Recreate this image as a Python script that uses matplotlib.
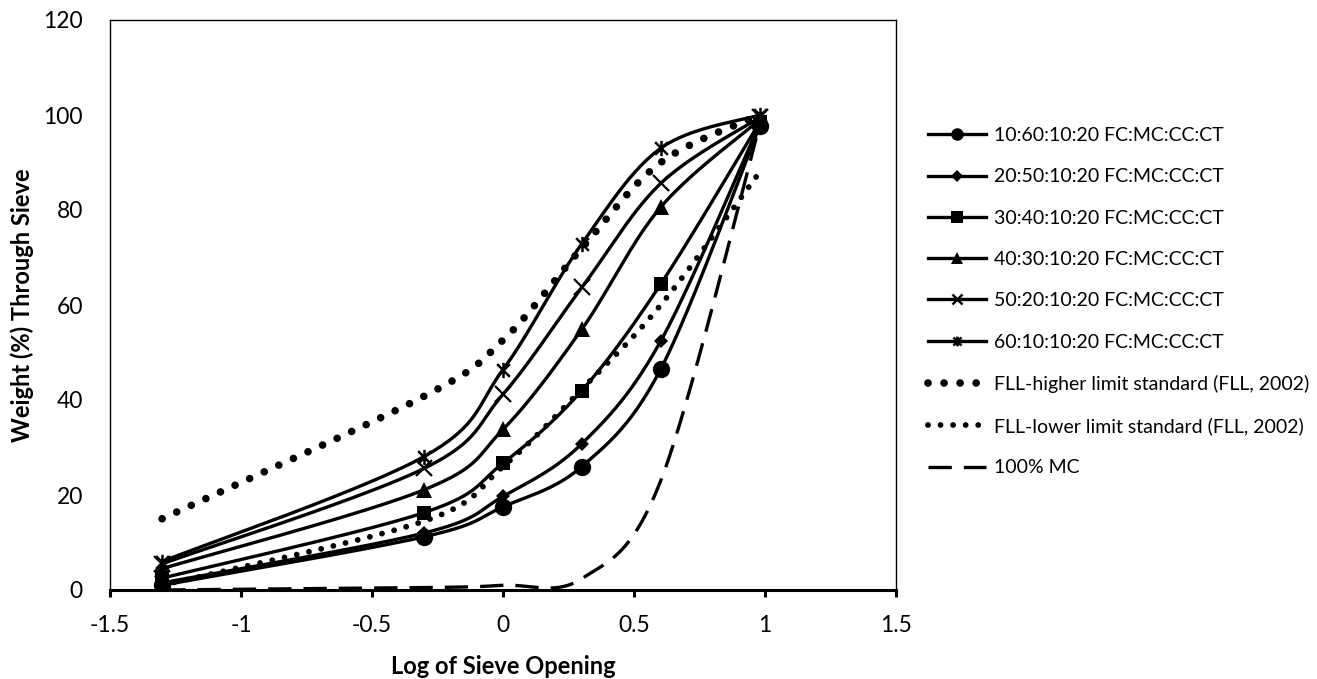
import numpy as np
import matplotlib
matplotlib.use("Agg")
import matplotlib.pyplot as plt
from matplotlib.lines import Line2D
from matplotlib.path import Path

plt.rcParams['font.family'] = ['Lato', 'DejaVu Sans']

# ---------------- data ----------------
log_sieve = [-1.301, -0.301, 0.0, 0.301, 0.602, 0.98]

series_names = [
    "10:60:10:20 FC:MC:CC:CT",
    "20:50:10:20 FC:MC:CC:CT",
    "30:40:10:20 FC:MC:CC:CT",
    "40:30:10:20 FC:MC:CC:CT",
    "50:20:10:20 FC:MC:CC:CT",
    "60:10:10:20 FC:MC:CC:CT",
]
s_10_60 = [1.0, 11.2, 17.5, 26.0, 46.5, 97.7]
s_20_50 = [1.5, 12.0, 19.7, 30.8, 52.4, 98.2]
s_30_40 = [2.5, 16.3, 26.7, 42.0, 64.4, 98.5]
s_40_30 = [4.5, 21.1, 33.8, 54.9, 80.6, 99.0]
s_50_20 = [5.5, 25.6, 41.2, 63.7, 85.6, 99.5]
s_60_10 = [6.0, 28.1, 46.4, 72.9, 93.0, 100.0]

fll_high_name = "FLL-higher limit standard (FLL, 2002)"
fll_high = [15.0, 40.8, 52.6, 72.0, 90.0, 100.0]
fll_low_name = "FLL-lower limit standard (FLL, 2002)"
fll_low = [1.0, 14.5, 26.0, 42.3, 60.0, 88.0]
mc_name = "100% MC"
mc_100 = [0.0, 0.5, 1.0, 2.4, 23.0, 98.0]

x_ticks = [-1.5, -1, -0.5, 0, 0.5, 1, 1.5]
x_ticklabels = ["-1.5", "-1", "-0.5", "0", "0.5", "1", "1.5"]
y_ticks = [0, 20, 40, 60, 80, 100, 120]


def smooth(xs, ys, n=60):
    """Excel-like smoothed line (Catmull-Rom Bezier through the points)."""
    P = np.column_stack([xs, ys]).astype(float)
    ext = np.vstack([P[0], P, P[-1]])
    out = []
    t = np.linspace(0, 1, n)[:, None]
    for i in range(len(P) - 1):
        p0, p1, p2, p3 = ext[i], ext[i + 1], ext[i + 2], ext[i + 3]
        c1 = p1 + (p2 - p0) / 6.0
        c2 = p2 - (p3 - p1) / 6.0
        seg = (1 - t) ** 3 * p1 + 3 * (1 - t) ** 2 * t * c1 + 3 * (1 - t) * t ** 2 * c2 + t ** 3 * p2
        out.append(seg if i == 0 else seg[1:])
    out = np.vstack(out)
    return out[:, 0], out[:, 1]


star_path = Path(
    [(-0.5, -0.5), (0.5, 0.5), (-0.5, 0.5), (0.5, -0.5), (0, -0.6), (0, 0.6)],
    [Path.MOVETO, Path.LINETO, Path.MOVETO, Path.LINETO, Path.MOVETO, Path.LINETO],
)

W, H = 1317, 679
fig = plt.figure(figsize=(W / 100, H / 100), dpi=100)
ax = fig.add_axes([110 / W, 1 - 590 / H, (896 - 110) / W, (590 - 20) / H])

LW = 2.4
styles = [
    dict(marker='o', ms=12.5, mew=0),
    dict(marker='D', ms=7.5, mew=0),
    dict(marker='s', ms=10.5, mew=0),
    dict(marker='^', ms=11, mew=0),
    dict(marker='x', ms=12, mew=1.6),
    dict(marker=star_path, ms=11, mew=1.8),
]
leg_styles = [
    dict(marker='o', ms=9, mew=0),
    dict(marker='D', ms=6, mew=0),
    dict(marker='s', ms=8, mew=0),
    dict(marker='^', ms=8, mew=0),
    dict(marker='x', ms=7, mew=1.8),
    dict(marker=star_path, ms=7, mew=1.8),
]
all_series = [s_10_60, s_20_50, s_30_40, s_40_30, s_50_20, s_60_10]

handles = []
for ys, st, lst, name in zip(all_series, styles, leg_styles, series_names):
    sx, sy = smooth(log_sieve, ys)
    ax.plot(sx, sy, color='black', lw=LW, solid_capstyle='round', zorder=3)
    ax.plot(log_sieve, ys, linestyle='none', color='black', zorder=4, **st)
    handles.append(Line2D([], [], color='black', lw=LW, **lst, label=name))

sx, sy = smooth(log_sieve, fll_high)
hh, = ax.plot(sx, sy, color='black', lw=5.5, linestyle=(0, (0.001, 2.1)),
              dash_capstyle='round', zorder=3, label=fll_high_name)
sx, sy = smooth(log_sieve, fll_low)
hl, = ax.plot(sx, sy, color='black', lw=4.2, linestyle=(0, (0.001, 2.15)),
              dash_capstyle='round', zorder=3, label=fll_low_name)
sx, sy = smooth(log_sieve, mc_100)
hm, = ax.plot(sx, sy, color='black', lw=LW, linestyle=(0, (7.0, 3.6)),
              dash_capstyle='butt', zorder=3, label=mc_name)
handles += [hh, hl, hm]

ax.set_xlim(-1.5, 1.5)
ax.set_ylim(0, 120)
ax.set_xticks(x_ticks)
ax.set_xticklabels(x_ticklabels)
ax.set_yticks(y_ticks)
ax.tick_params(axis='x', direction='out', length=4.8, width=2.2, pad=13, labelsize=16.5)
ax.tick_params(axis='y', length=0, pad=19.5, labelsize=16.5)
for side in ['left', 'top', 'right']:
    ax.spines[side].set_linewidth(1.0)
ax.spines['bottom'].set_linewidth(2.2)

ax.set_xlabel("Log of Sieve Opening", fontsize=17, fontweight='bold')
ax.set_ylabel("Weight (%) Through Sieve", fontsize=17, fontweight='bold')
ax.xaxis.set_label_coords(0.5, -(655 - 590) / 570)
ax.yaxis.set_label_coords(-(110 - 34) / 786, 0.5)

fig.legend(handles=handles, loc='upper left', bbox_to_anchor=(928 / W, 1 - 127 / H),
           frameon=False, fontsize=14, handlelength=3.0, handletextpad=0.42,
           labelspacing=1.25, borderpad=0, borderaxespad=0, numpoints=1)

fig.savefig("out.png", dpi=100)
